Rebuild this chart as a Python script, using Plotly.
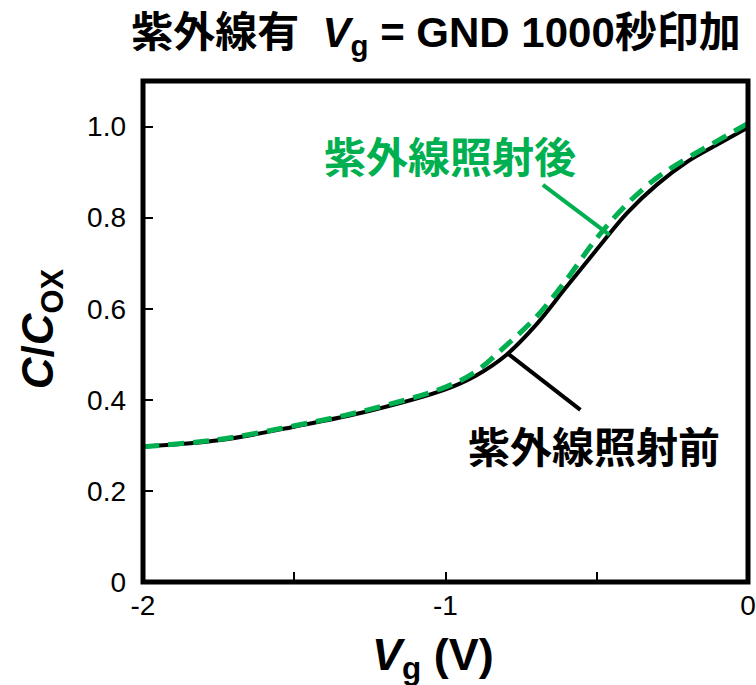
import plotly.graph_objects as go

# Gate voltage sweep (V)
vg = [-2.0, -1.75, -1.5, -1.25, -1.0, -0.9, -0.8, -0.7, -0.6, -0.5, -0.4, -0.3, -0.2, -0.1, 0.0]
# Normalised capacitance C/Cox before UV irradiation
c_before = [0.297, 0.311, 0.341, 0.376, 0.423, 0.453, 0.498, 0.565, 0.648, 0.730, 0.810, 0.873, 0.923, 0.961, 0.998]
# Normalised capacitance C/Cox after UV irradiation
c_after = [0.297, 0.313, 0.343, 0.379, 0.428, 0.462, 0.519, 0.582, 0.664, 0.755, 0.830, 0.888, 0.931, 0.969, 1.007]

x_ticks = [-2, -1.5, -1, -0.5, 0]
x_ticktext = ["-2", "", "-1", "", "0"]
y_ticks = [0, 0.2, 0.4, 0.6, 0.8, 1.0]
y_ticktext = ["0", "0.2", "0.4", "0.6", "0.8", "1.0"]

GREEN = "rgb(0,176,80)"
LATIN = "Liberation Sans, Arial, Noto Sans CJK JP"
CJK = "Noto Sans CJK JP, Liberation Sans"

fig = go.Figure()
fig.add_trace(go.Scatter(x=vg, y=c_before, mode="lines", line=dict(color="black", width=4, shape="spline"),
                         name="紫外線照射前"))
fig.add_trace(go.Scatter(x=vg, y=c_after, mode="lines",
                         line=dict(color=GREEN, width=5, dash="16px,9px", shape="spline"),
                         name="紫外線照射後"))

# plot frame
fig.add_shape(type="rect", xref="paper", yref="paper", x0=0, x1=1, y0=0, y1=1,
              line=dict(color="black", width=5), layer="above")

# label leader lines
fig.add_shape(type="line", xref="x", yref="y", x0=-0.678, y0=0.872, x1=-0.458, y1=0.762,
              line=dict(color=GREEN, width=4))
fig.add_shape(type="line", xref="x", yref="y", x0=-0.797, y0=0.503, x1=-0.554, y1=0.378,
              line=dict(color="black", width=4))

fig.add_annotation(x=-0.984, y=0.938, xref="x", yref="y", text="<b>紫外線照射後</b>", showarrow=False,
                   font=dict(family=CJK, size=42, color=GREEN))
fig.add_annotation(x=-0.508, y=0.301, xref="x", yref="y", text="<b>紫外線照射前</b>", showarrow=False,
                   font=dict(family=CJK, size=42, color="black"))

# axis titles
fig.add_annotation(x=0.479, y=-0.15, xref="paper", yref="paper", text="<b><i>V</i><sub>g</sub> (V)</b>",
                   showarrow=False, font=dict(family=LATIN, size=45, color="black"),
                   xanchor="center", yanchor="middle")
fig.add_annotation(x=-0.168, y=0.505, xref="paper", yref="paper",
                   text="<b><i>C</i>/<i>C</i><sub>OX</sub></b>", textangle=-90,
                   showarrow=False, font=dict(family=LATIN, size=44, color="black"),
                   xanchor="center", yanchor="middle")

fig.update_layout(
    width=756, height=685,
    margin=dict(l=143, r=8, t=81, b=103, autoexpand=False),
    paper_bgcolor="white", plot_bgcolor="white",
    showlegend=False,
    title=dict(text="<b>紫外線有  <i>V</i><sub>g</sub> = GND 1000秒印加</b>",
               x=436 / 756, xref="container", xanchor="center",
               y=1 - 32 / 685, yref="container", yanchor="middle",
               font=dict(family=LATIN, size=42, color="black")),
    xaxis=dict(range=[-2, 0], tickvals=x_ticks, ticktext=x_ticktext, ticks="inside", ticklen=10,
               tickwidth=1.5, tickcolor="black", showgrid=False, zeroline=False, showline=False,
               automargin=False,
               tickfont=dict(family=LATIN, size=28, color="black"), ticklabelstandoff=4),
    yaxis=dict(range=[0, 1.1], tickvals=y_ticks, ticktext=y_ticktext, ticks="inside", ticklen=10,
               tickwidth=1.5, tickcolor="black", showgrid=False, zeroline=False, showline=False,
               automargin=False,
               tickfont=dict(family=LATIN, size=28, color="black"), ticklabelstandoff=16),
)

fig.write_html("out.html")
